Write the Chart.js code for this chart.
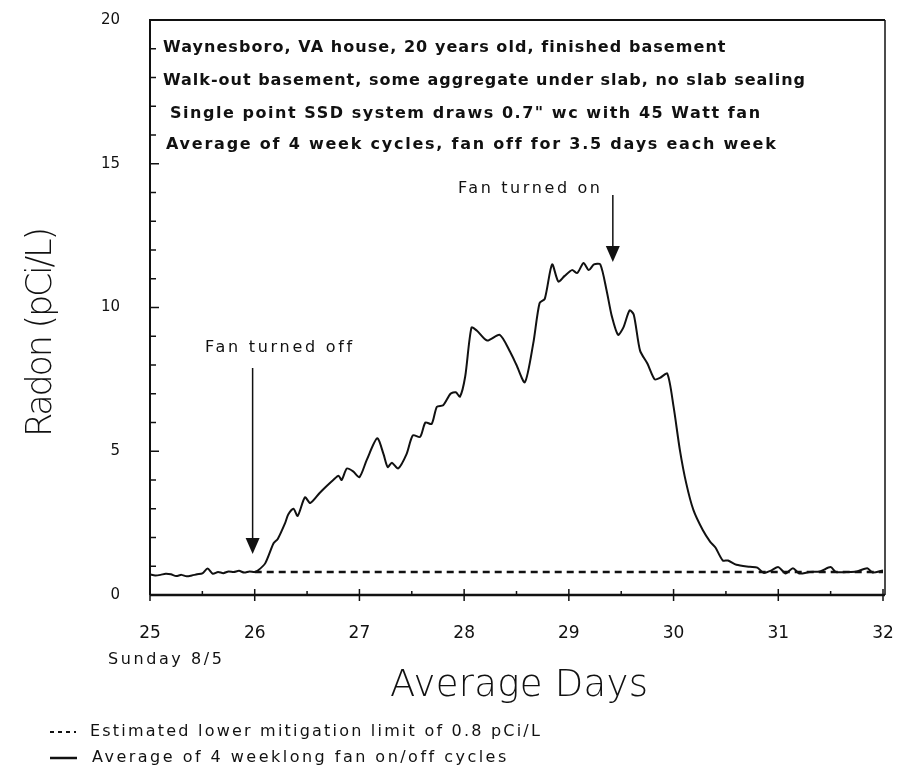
<!DOCTYPE html>
<html>
<head>
<meta charset="utf-8">
<script src="https://cdn.jsdelivr.net/npm/chart.js@4"></script>
<style>
  html, body { margin: 0; padding: 0; background: #fff; }
  #wrap { width: 899px; height: 771px; position: relative; }
</style>
</head>
<body>
<div id="wrap"><canvas id="radonChart" width="899" height="771"></canvas></div>
<script>
// days (x) and radon pCi/L (y)
const days = [
  25.0, 25.05, 25.1, 25.15, 25.2, 25.25, 25.3, 25.35, 25.4, 25.45, 25.5, 25.55, 25.6, 25.65, 25.7,
  25.75, 25.8, 25.85, 25.9, 25.95, 26.0, 26.03, 26.1, 26.18, 26.22, 26.29, 26.32, 26.37, 26.41, 26.48,
  26.53, 26.62, 26.69, 26.75, 26.8, 26.83, 26.88, 26.94, 27.0, 27.07, 27.17, 27.23, 27.27, 27.31, 27.37,
  27.45, 27.51, 27.58, 27.63, 27.69, 27.74, 27.8, 27.87, 27.92, 27.96, 28.01, 28.07, 28.12, 28.22, 28.34,
  28.44, 28.5, 28.58, 28.66, 28.72, 28.77, 28.84, 28.9, 28.96, 29.03, 29.08, 29.14, 29.19, 29.24, 29.3,
  29.36, 29.41, 29.47, 29.52, 29.58, 29.62, 29.68, 29.75, 29.82, 29.87, 29.94, 30.0, 30.06, 30.12, 30.19,
  30.28, 30.35, 30.4, 30.47, 30.52, 30.6, 30.73, 30.8, 30.86, 30.93, 31.0, 31.07, 31.14, 31.2, 31.3,
  31.4, 31.5, 31.55, 31.65, 31.75, 31.85, 31.9, 32.0
];
const radon = [
  0.72, 0.68, 0.7, 0.74, 0.72, 0.66, 0.7, 0.65, 0.68, 0.72, 0.75, 0.92, 0.74, 0.8, 0.76,
  0.82, 0.8, 0.84, 0.78, 0.82, 0.8, 0.85, 1.1, 1.8, 1.95, 2.5, 2.8, 3.0, 2.75, 3.4,
  3.2, 3.55, 3.8, 4.0, 4.15, 4.0, 4.4, 4.3, 4.1, 4.7, 5.45, 4.9, 4.45, 4.6, 4.4,
  4.9, 5.55, 5.5, 6.0, 5.95, 6.55, 6.6, 7.0, 7.05, 6.9, 7.6, 9.3, 9.2, 8.85, 9.05,
  8.45, 8.0, 7.4, 8.75, 10.15, 10.3, 11.5, 10.9, 11.1, 11.3, 11.2, 11.55, 11.3, 11.5, 11.5,
  10.6, 9.7, 9.05, 9.3, 9.9, 9.75, 8.5, 8.05, 7.5, 7.55, 7.7, 6.55, 5.05, 3.9, 2.95,
  2.25, 1.85, 1.65, 1.2, 1.2, 1.05, 0.98, 0.95, 0.77, 0.85, 0.97, 0.75, 0.93, 0.75, 0.8,
  0.82, 0.97, 0.8, 0.8, 0.82, 0.93, 0.78, 0.85
];
const limitDays = [26, 32];
const limitValue = [0.8, 0.8];
const xTicks = [25, 26, 27, 28, 29, 30, 31, 32];
const yTicks = [0, 5, 10, 15, 20];

const infoLines = [
  "Waynesboro, VA house, 20 years old, finished basement",
  "Walk-out basement, some aggregate under slab, no slab sealing",
  "Single point SSD system draws 0.7\" wc with 45 Watt fan",
  "Average of 4 week cycles, fan off for 3.5 days each week"
];
const legendLabels = [
  "Estimated lower mitigation limit of 0.8 pCi/L",
  "Average of 4 weeklong fan on/off cycles"
];

const FONT = "'DejaVu Sans', sans-serif";

// draws text stretched by letter spacing to a target width
function fitText(ctx, text, x, y, width) {
  ctx.letterSpacing = "0px";
  const w = ctx.measureText(text).width;
  const sp = (width - w) / Math.max(1, text.length - 1);
  ctx.letterSpacing = sp.toFixed(2) + "px";
  ctx.fillText(text, x, y);
  ctx.letterSpacing = "0px";
}

function arrow(ctx, x, y0, y1) {
  ctx.beginPath();
  ctx.moveTo(x, y0);
  ctx.lineTo(x, y1 - 12);
  ctx.lineWidth = 1.5;
  ctx.stroke();
  ctx.beginPath();
  ctx.moveTo(x - 7, y1 - 16);
  ctx.lineTo(x + 7, y1 - 16);
  ctx.lineTo(x, y1);
  ctx.closePath();
  ctx.fill();
}

const decorations = {
  id: "decorations",
  afterDraw(chart) {
    const { ctx, chartArea: a, scales: { x, y } } = chart;
    ctx.save();
    ctx.strokeStyle = "#111";
    ctx.fillStyle = "#111";

    // frame
    ctx.lineWidth = 2;
    ctx.beginPath();
    ctx.moveTo(a.left, a.bottom);
    ctx.lineTo(a.left, a.top);
    ctx.lineTo(a.right + 2, a.top);
    ctx.stroke();
    ctx.lineWidth = 1.5;
    ctx.beginPath();
    ctx.moveTo(a.right + 2, a.top);
    ctx.lineTo(a.right + 2, a.bottom);
    ctx.stroke();
    ctx.lineWidth = 2.5;
    ctx.beginPath();
    ctx.moveTo(a.left, a.bottom);
    ctx.lineTo(a.right + 2, a.bottom);
    ctx.stroke();

    // y ticks, minor every 1
    ctx.lineWidth = 1.5;
    for (let v = 0; v <= 20; v++) {
      const py = y.getPixelForValue(v);
      const len = v % 5 === 0 ? 9 : 6;
      ctx.beginPath();
      ctx.moveTo(a.left, py);
      ctx.lineTo(a.left + len, py);
      ctx.stroke();
    }
    // x ticks, minor every half day
    for (let d = 25; d <= 32.001; d += 0.5) {
      const px = x.getPixelForValue(d);
      const major = Math.abs(d - Math.round(d)) < 0.01;
      ctx.beginPath();
      ctx.moveTo(px, a.bottom - (major ? 6 : 4));
      ctx.lineTo(px, a.bottom + (major ? 6 : 0));
      ctx.stroke();
    }

    // info block
    ctx.textBaseline = "middle";
    ctx.textAlign = "left";
    ctx.font = "bold 16px " + FONT;
    const infoX = [163, 163, 170, 166];
    const infoW = [562, 642, 590, 609];
    const infoY = [48, 81, 114, 145];
    infoLines.forEach((t, i) => fitText(ctx, t, infoX[i], infoY[i], infoW[i]));

    // annotations
    ctx.font = "16px " + FONT;
    fitText(ctx, "Fan turned off", 205, 348, 147);
    fitText(ctx, "Fan turned on", 458, 189, 142);
    arrow(ctx, x.getPixelForValue(25.98), 368, 554);
    arrow(ctx, x.getPixelForValue(29.42), 195, 262);

    // axis titles
    ctx.font = "200 37px " + FONT;
    fitText(ctx, "Average Days", 390, 686, 258);
    ctx.save();
    ctx.translate(42, 437);
    ctx.rotate(-Math.PI / 2);
    ctx.font = "200 35px " + FONT;
    fitText(ctx, "Radon (pCi/L)", 0, 0, 210);
    ctx.restore();

    ctx.font = "16px " + FONT;
    fitText(ctx, "Sunday 8/5", 108, 660, 114);

    // legend
    ctx.lineWidth = 2;
    ctx.setLineDash([4, 4]);
    ctx.beginPath();
    ctx.moveTo(50, 732);
    ctx.lineTo(76, 732);
    ctx.stroke();
    ctx.setLineDash([]);
    ctx.lineWidth = 2.5;
    ctx.beginPath();
    ctx.moveTo(50, 758);
    ctx.lineTo(77, 758);
    ctx.stroke();
    fitText(ctx, legendLabels[0], 90, 732, 450);
    fitText(ctx, legendLabels[1], 92, 758, 414);
    ctx.restore();
  }
};

new Chart(document.getElementById("radonChart"), {
  type: "line",
  data: {
    datasets: [
      {
        label: "Average of 4 weeklong fan on/off cycles",
        data: days.map((d, i) => ({ x: d, y: radon[i] })),
        borderColor: "#111",
        borderWidth: 2,
        pointRadius: 0,
        tension: 0.25
      },
      {
        label: "Estimated lower mitigation limit of 0.8 pCi/L",
        data: limitDays.map((d, i) => ({ x: d, y: limitValue[i] })),
        borderColor: "#111",
        borderWidth: 2.5,
        borderDash: [7, 5],
        pointRadius: 0
      }
    ]
  },
  options: {
    responsive: false,
    animation: false,
    layout: { padding: { left: 0, top: 20, right: 16, bottom: 0 } },
    plugins: { legend: { display: false }, tooltip: { enabled: false } },
    scales: {
      x: {
        type: "linear",
        min: 25,
        max: 32,
        afterFit: (s) => { s.height = 176; s.paddingLeft = 0; s.paddingRight = 0; },
        afterBuildTicks: (s) => { s.ticks = xTicks.map((v) => ({ value: v })); },
        grid: { display: false },
        border: { display: false },
        ticks: { color: "#111", font: { family: FONT, size: 17 }, padding: 20, maxRotation: 0 }
      },
      y: {
        min: 0,
        max: 20,
        afterFit: (s) => { s.width = 150; s.paddingTop = 0; s.paddingBottom = 0; },
        afterBuildTicks: (s) => { s.ticks = yTicks.map((v) => ({ value: v })); },
        grid: { display: false },
        border: { display: false },
        ticks: { color: "#111", font: { family: FONT, size: 15 }, padding: 22 }
      }
    }
  },
  plugins: [decorations]
});
</script>
</body>
</html>
